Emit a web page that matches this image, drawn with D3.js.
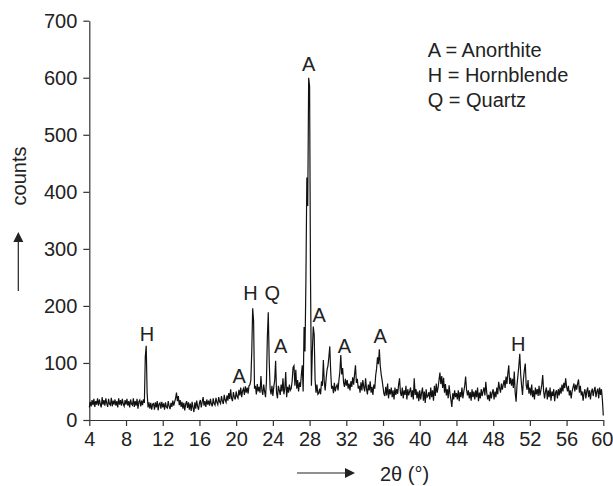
<!DOCTYPE html>
<html>
<head>
<meta charset="utf-8">
<script src="https://cdn.jsdelivr.net/npm/d3@7"></script>
<style>
  html, body { margin: 0; padding: 0; background: #fff; }
  svg { display: block; font-family: "Liberation Sans", Arial, sans-serif; }
</style>
</head>
<body>
<div id="chart"></div>
<script>
// ---- data (2θ from 4.0° to 60.0° in 0.1° steps) ----
const twoThetaStart = 4.0;
const twoThetaStep = 0.1;
const counts = [
  // 4.x
  22, 32, 24, 35, 26, 37, 23, 33, 27, 38,
  // 5.x
  25, 36, 28, 22, 40, 27, 35, 25, 38, 29,
  // 6.x
  23, 37, 28, 26, 39, 24, 34, 27, 36, 25,
  // 7.x
  33, 22, 38, 27, 35, 25, 37, 28, 24, 35,
  // 8.x
  27, 37, 25, 33, 22, 36, 28, 26, 38, 23,
  // 9.x
  33, 25, 37, 20, 32, 35, 24, 34, 26, 36,
  // 10.x
  30, 111, 130, 48, 22, 31, 20, 30, 18, 28,
  // 11.x
  29, 18, 31, 22, 33, 17, 28, 30, 20, 32,
  // 12.x
  22, 29, 18, 31, 23, 21, 33, 24, 19, 30,
  // 13.x
  23, 34, 25, 32, 38, 48, 33, 42, 26, 35,
  // 14.x
  23, 32, 20, 30, 17, 28, 33, 21, 31, 18,
  // 15.x
  29, 16, 32, 22, 14, 31, 20, 34, 24, 18,
  // 16.x
  30, 35, 22, 32, 40, 25, 33, 23, 36, 27,
  // 17.x
  34, 25, 37, 28, 24, 38, 29, 26, 39, 31,
  // 18.x
  27, 40, 32, 29, 42, 33, 28, 44, 35, 31,
  // 19.x
  43, 34, 47, 37, 54, 38, 33, 49, 40, 36,
  // 20.x
  50, 41, 38, 53, 43, 57, 40, 51, 55, 44,
  // 21.x
  59, 48, 57, 46, 60, 62, 70, 120, 196, 174,
  // 22.x
  55, 60, 45, 63, 50, 58, 48, 77, 52, 44,
  // 23.x
  62, 50, 40, 68, 146, 189, 104, 55, 45, 60,
  // 24.x
  42, 58, 70, 104, 48, 38, 60, 52, 44, 62,
  // 25.x
  50, 73, 45, 55, 84, 40, 58, 48, 62, 52,
  // 26.x
  55, 68, 92, 95, 60, 88, 55, 70, 50, 66,
  // 27.x
  58, 79, 96, 50, 163, 120, 245, 425, 375, 600,
  // 28.x
  585, 250, 60, 120, 164, 150, 70, 48, 62, 45,
  // 29.x
  47, 55, 45, 68, 60, 105, 67, 52, 72, 88,
  // 30.x
  95, 110, 129, 85, 55, 60, 47, 65, 50, 58,
  // 31.x
  62, 52, 70, 85, 114, 80, 91, 66, 58, 72,
  // 32.x
  60, 70, 55, 64, 52, 68, 58, 75, 62, 80,
  // 33.x
  96, 65, 72, 55, 60, 48, 66, 52, 70, 58,
  // 34.x
  50, 73, 55, 45, 62, 52, 68, 48, 58, 44,
  // 35.x
  62, 55, 78, 90, 110, 98, 124, 95, 80, 70,
  // 36.x
  58, 46, 42, 58, 43, 64, 38, 54, 45, 57,
  // 37.x
  40, 52, 36, 57, 44, 54, 46, 62, 73, 48,
  // 38.x
  42, 57, 38, 52, 44, 60, 36, 54, 43, 50,
  // 39.x
  57, 40, 52, 36, 73, 44, 54, 38, 50, 33,
  // 40.x
  52, 36, 47, 57, 34, 50, 30, 54, 40, 42,
  // 41.x
  49, 36, 57, 40, 52, 34, 60, 42, 64, 48,
  // 42.x
  57, 70, 83, 63, 77, 56, 74, 48, 63, 43,
  // 43.x
  54, 38, 61, 46, 35, 23, 47, 36, 52, 40,
  // 44.x
  47, 36, 52, 33, 49, 40, 57, 38, 50, 60,
  // 45.x
  76, 53, 43, 52, 38, 49, 34, 54, 40, 50,
  // 46.x
  36, 52, 40, 57, 33, 48, 38, 54, 42, 50,
  // 47.x
  57, 43, 67, 48, 36, 44, 33, 50, 38, 48,
  // 48.x
  54, 36, 50, 40, 57, 45, 67, 56, 48, 64,
  // 49.x
  53, 62, 70, 56, 76, 63, 82, 96, 63, 74,
  // 50.x
  60, 72, 56, 85, 48, 32, 62, 78, 95, 116,
  // 51.x
  80, 60, 44, 72, 88, 99, 61, 53, 70, 46,
  // 52.x
  57, 43, 62, 40, 52, 36, 57, 45, 54, 42,
  // 53.x
  60, 43, 52, 62, 79, 50, 38, 50, 57, 36,
  // 54.x
  52, 40, 57, 34, 50, 42, 54, 33, 48, 52,
  // 55.x
  38, 54, 43, 57, 46, 62, 50, 65, 56, 73,
  // 56.x
  58, 50, 60, 43, 52, 38, 50, 57, 64, 50,
  // 57.x
  62, 53, 64, 71, 48, 60, 43, 50, 34, 47,
  // 58.x
  54, 38, 50, 57, 40, 52, 36, 49, 55, 42,
  // 59.x
  52, 58, 40, 50, 55, 38, 57, 44, 54, 36,
  // 60.0
  8
];

const xTicks = [4, 8, 12, 16, 20, 24, 28, 32, 36, 40, 44, 48, 52, 56, 60];
const yTicks = [0, 100, 200, 300, 400, 500, 600, 700];

// peak labels in data units (2θ, counts)
const peakLabels = ["A", "H", "A", "H", "Q", "A", "A", "A", "A", "H"];
const peakX      = [27.91, 10.29, 20.33, 21.56, 23.93, 24.84, 29.04, 31.79, 35.68, 50.74];
const peakY      = [612, 139, 64, 211, 211, 117, 172, 117, 135, 121];

const legendLines = ["A = Anorthite", "H = Hornblende", "Q = Quartz"];

// ---- layout ----
const W = 613, H = 486;
const margin = { left: 89.3, right: 9.7, top: 20.7, bottom: 66 };
const innerW = W - margin.left - margin.right;
const innerH = H - margin.top - margin.bottom;

const svg = d3.select("#chart").append("svg")
  .attr("width", W).attr("height", H);

const x = d3.scaleLinear().domain([4, 60]).range([margin.left, margin.left + innerW]);
const y = d3.scaleLinear().domain([0, 700]).range([margin.top + innerH, margin.top]);

const data = counts.map((c, i) => ({ t: twoThetaStart + i * twoThetaStep, c }));

const axisColor = "#333";
const textColor = "#222";
const fontSize = 20;

// axes
const gx = svg.append("g")
  .attr("transform", `translate(0,${margin.top + innerH})`)
  .call(d3.axisBottom(x).tickValues(xTicks).tickSize(6).tickSizeOuter(0).tickPadding(6));
const gy = svg.append("g")
  .attr("transform", `translate(${margin.left},0)`)
  .call(d3.axisLeft(y).tickValues(yTicks).tickSize(6).tickSizeOuter(0).tickPadding(6));

[gx, gy].forEach(g => {
  g.selectAll("path.domain").attr("stroke", axisColor).attr("stroke-width", 1.2);
  g.selectAll(".tick line").attr("stroke", axisColor).attr("stroke-width", 1.2);
  g.selectAll(".tick text")
    .attr("fill", textColor)
    .style("font-size", fontSize + "px")
    .style("font-family", '"Liberation Sans", Arial, sans-serif');
});
// keep the last tick label inside the page
gx.selectAll(".tick text").filter(d => d === 60).attr("dx", -1.5);

// data line
const line = d3.line().x(d => x(d.t)).y(d => y(d.c));
svg.append("path")
  .datum(data)
  .attr("fill", "none")
  .attr("stroke", "#111")
  .attr("stroke-width", 1.2)
  .attr("stroke-linejoin", "miter")
  .attr("d", line);

// peak labels
svg.append("g").selectAll("text")
  .data(peakLabels)
  .join("text")
  .attr("x", (d, i) => x(peakX[i]))
  .attr("y", (d, i) => y(peakY[i]))
  .attr("text-anchor", "middle")
  .attr("fill", textColor)
  .style("font-size", fontSize + "px")
  .text(d => d);

// legend
svg.append("g").selectAll("text")
  .data(legendLines)
  .join("text")
  .attr("x", 427.7)
  .attr("y", (d, i) => 57 + i * 25)
  .attr("fill", textColor)
  .style("font-size", fontSize + "px")
  .text(d => d);

// y axis title with arrow
svg.append("text")
  .attr("transform", "translate(26,176) rotate(-90)")
  .attr("text-anchor", "middle")
  .attr("fill", textColor)
  .style("font-size", fontSize + "px")
  .text("counts");

const arrowColor = "#222";
svg.append("line")
  .attr("x1", 18.3).attr("x2", 18.3)
  .attr("y1", 291).attr("y2", 240)
  .attr("stroke", arrowColor).attr("stroke-width", 1.2);
svg.append("path")
  .attr("d", "M18.3,232 L13.3,242 L23.3,242 Z")
  .attr("fill", arrowColor);

// x axis title with arrow
svg.append("line")
  .attr("x1", 297).attr("x2", 347)
  .attr("y1", 473).attr("y2", 473)
  .attr("stroke", arrowColor).attr("stroke-width", 1.2);
svg.append("path")
  .attr("d", "M355,473 L345,468 L345,478 Z")
  .attr("fill", arrowColor);

svg.append("text")
  .attr("x", 380)
  .attr("y", 481)
  .attr("fill", textColor)
  .style("font-size", fontSize + "px")
  .text("2θ (°)");
</script>
</body>
</html>
